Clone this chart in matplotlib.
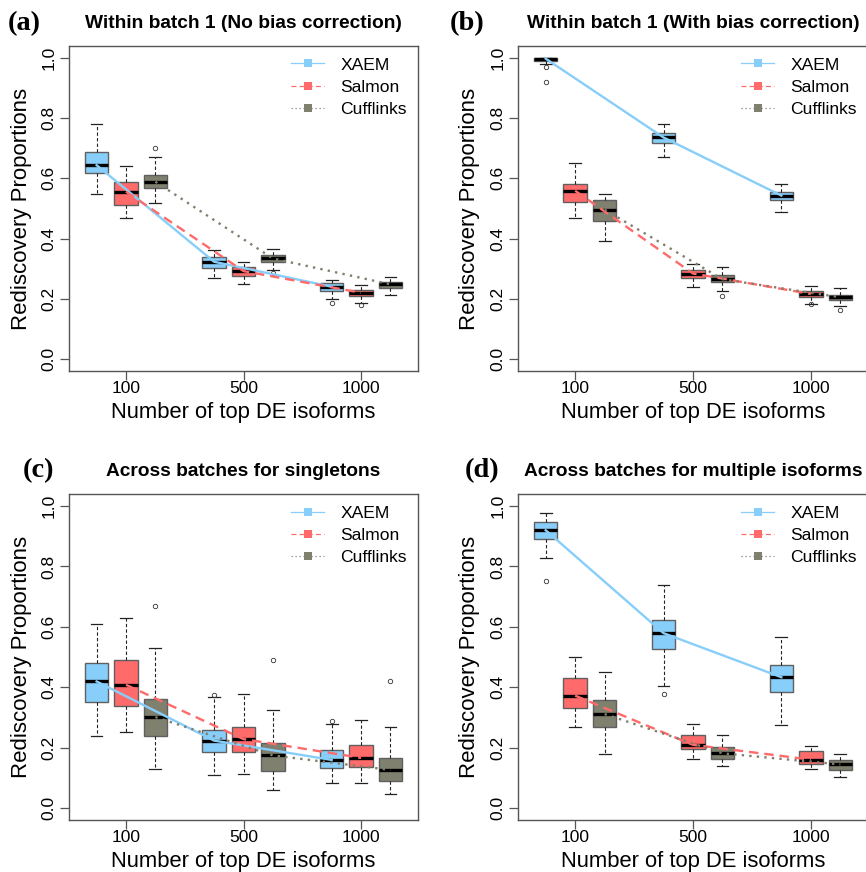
"""Rediscovery proportions of top DE isoforms: XAEM vs Salmon vs Cufflinks."""

import matplotlib
matplotlib.use('Agg')
import matplotlib.pyplot as plt
from matplotlib.lines import Line2D

plt.rcParams['font.family'] = ['Liberation Sans', 'DejaVu Sans']

METHODS = ['XAEM', 'Salmon', 'Cufflinks']
TOP_N = ['100', '500', '1000']
GROUP_X = [2, 6, 10]
FILLS = ['#87CEFA', '#FF6A6A', '#80806E']
LINE_STYLES = ['-', (0, (4, 2.5)), (0, (1, 2.2))]

# Each box: (lower whisker, Q1, median, Q3, upper whisker, outliers)
a_xaem = [(0.548, 0.618, 0.644, 0.688, 0.780, []),
          (0.270, 0.303, 0.323, 0.340, 0.361, []),
          (0.198, 0.227, 0.240, 0.251, 0.264, [0.185])]
a_salmon = [(0.469, 0.510, 0.556, 0.587, 0.640, []),
            (0.248, 0.276, 0.292, 0.307, 0.323, []),
            (0.185, 0.209, 0.220, 0.229, 0.246, [0.180])]
a_cufflinks = [(0.519, 0.568, 0.589, 0.611, 0.670, [0.700]),
               (0.297, 0.323, 0.334, 0.347, 0.365, [0.286]),
               (0.213, 0.235, 0.248, 0.257, 0.271, [])]

b_xaem = [(0.980, 0.989, 0.998, 1.000, 1.000, [0.969, 0.921]),
          (0.672, 0.717, 0.736, 0.752, 0.782, []),
          (0.487, 0.529, 0.543, 0.554, 0.580, [])]
b_salmon = [(0.469, 0.520, 0.559, 0.580, 0.651, []),
            (0.240, 0.270, 0.284, 0.297, 0.314, []),
            (0.183, 0.205, 0.216, 0.226, 0.243, [0.182])]
b_cufflinks = [(0.391, 0.460, 0.496, 0.529, 0.548, []),
               (0.226, 0.256, 0.265, 0.278, 0.304, [0.210]),
               (0.176, 0.196, 0.205, 0.213, 0.235, [0.163])]

c_xaem = [(0.239, 0.350, 0.419, 0.479, 0.609, []),
          (0.110, 0.186, 0.223, 0.258, 0.366, [0.375]),
          (0.084, 0.131, 0.159, 0.192, 0.279, [0.287])]
c_salmon = [(0.250, 0.338, 0.408, 0.490, 0.628, []),
            (0.112, 0.184, 0.228, 0.269, 0.378, []),
            (0.083, 0.135, 0.166, 0.207, 0.292, [])]
c_cufflinks = [(0.130, 0.239, 0.301, 0.360, 0.530, [0.670]),
               (0.060, 0.123, 0.174, 0.214, 0.325, [0.490]),
               (0.047, 0.088, 0.126, 0.164, 0.267, [0.422])]

d_xaem = [(0.828, 0.891, 0.920, 0.948, 0.978, [0.751]),
          (0.405, 0.528, 0.579, 0.624, 0.738, [0.379]),
          (0.276, 0.383, 0.433, 0.473, 0.567, [])]
d_salmon = [(0.269, 0.331, 0.372, 0.430, 0.499, []),
            (0.163, 0.195, 0.209, 0.241, 0.279, []),
            (0.129, 0.147, 0.160, 0.189, 0.205, [])]
d_cufflinks = [(0.180, 0.269, 0.311, 0.359, 0.449, []),
               (0.140, 0.163, 0.181, 0.201, 0.243, []),
               (0.104, 0.126, 0.144, 0.160, 0.179, [])]

TITLES = ['Within batch 1 (No bias correction)',
          'Within batch 1 (With bias correction)',
          'Across batches for singletons',
          'Across batches for multiple isoforms']
TAGS = ['(a)', '(b)', '(c)', '(d)']

W, H = 866, 872
# axes rectangles in pixels: left, top, right, bottom
AXES_PX = [(69, 46, 418, 371), (518, 46, 868, 371),
           (69, 494, 418, 820), (518, 494, 868, 820)]
TAG_PX = [(8, 24), (450, 24), (23, 471), (465, 471)]

FRAME = '#555555'


def draw_panel(ax, series):
    for k, stats in enumerate(series):
        pos = [g + k - 1 for g in GROUP_X]
        boxes = [dict(whislo=s[0], q1=s[1], med=s[2], q3=s[3], whishi=s[4],
                      fliers=s[5]) for s in stats]
        ax.bxp(boxes, positions=pos, widths=0.8, capwidths=0.4,
               patch_artist=True, manage_ticks=False,
               boxprops=dict(facecolor=FILLS[k], edgecolor='#606060',
                             linewidth=1.0),
               whiskerprops=dict(color='#222222', linewidth=0.8,
                                 linestyle=(0, (3, 2))),
               capprops=dict(color='#222222', linewidth=0.9),
               medianprops=dict(color='black', linewidth=2.4,
                                solid_capstyle='butt'),
               flierprops=dict(marker='o', markerfacecolor='none',
                               markeredgecolor='#333333', markersize=3.2,
                               markeredgewidth=0.6))
        # trend line through the medians, drawn over the boxes
        ax.plot(pos, [s[2] for s in stats], color=FILLS[k],
                linestyle=LINE_STYLES[k], linewidth=1.7, zorder=6)

    ax.set_xlim(0.06, 11.94)
    ax.set_ylim(-0.04, 1.04)
    ax.set_xticks(GROUP_X)
    ax.set_xticklabels(TOP_N)
    yt = [0.0, 0.2, 0.4, 0.6, 0.8, 1.0]
    ax.set_yticks(yt)
    ax.set_yticklabels(['%.1f' % v for v in yt], rotation=90, va='center')
    ax.tick_params(direction='out', length=6.5, width=0.9, color=FRAME,
                   labelsize=12.5, pad=1.0)
    ax.tick_params(axis='y', pad=2.5)
    for sp in ax.spines.values():
        sp.set_color(FRAME)
        sp.set_linewidth(1.0)

    handles = [Line2D([], [], color=FILLS[k], linestyle=LINE_STYLES[k],
                      linewidth=0.9, marker='s', markersize=6,
                      markeredgewidth=0)
               for k in range(3)]
    ax.legend(handles, METHODS, loc='upper right', frameon=False,
              fontsize=12.6, handlelength=1.9, handletextpad=0.9,
              labelspacing=0.4, borderpad=0.55, borderaxespad=0.1)


def main():
    fig = plt.figure(figsize=(W / 100, H / 100), dpi=100)
    panels = [(a_xaem, a_salmon, a_cufflinks),
              (b_xaem, b_salmon, b_cufflinks),
              (c_xaem, c_salmon, c_cufflinks),
              (d_xaem, d_salmon, d_cufflinks)]
    for i, series in enumerate(panels):
        l, t, r, b = AXES_PX[i]
        ax = fig.add_axes([l / W, 1 - b / H, (r - l) / W, (b - t) / H])
        draw_panel(ax, series)
        w, h = r - l, b - t
        ax.text(0.5, 1 + 23 / h, TITLES[i], transform=ax.transAxes,
                ha='center', va='center', fontsize=13.8, fontweight='bold')
        ax.text(-48 / w, 0.5, 'Rediscovery Proportions',
                transform=ax.transAxes, rotation=90, ha='center',
                va='center', fontsize=16)
        ax.text(0.5, -41 / h, 'Number of top DE isoforms',
                transform=ax.transAxes, ha='center', va='center',
                fontsize=15.8)
        tx, ty = TAG_PX[i]
        fig.text(tx / W, 1 - ty / H, TAGS[i], ha='left', va='center',
                 fontsize=20.4, fontweight='bold',
                 family=['Liberation Serif', 'DejaVu Serif'])

    fig.savefig('out.png', dpi=100, facecolor='white')
    plt.close(fig)


if __name__ == '__main__':
    main()
